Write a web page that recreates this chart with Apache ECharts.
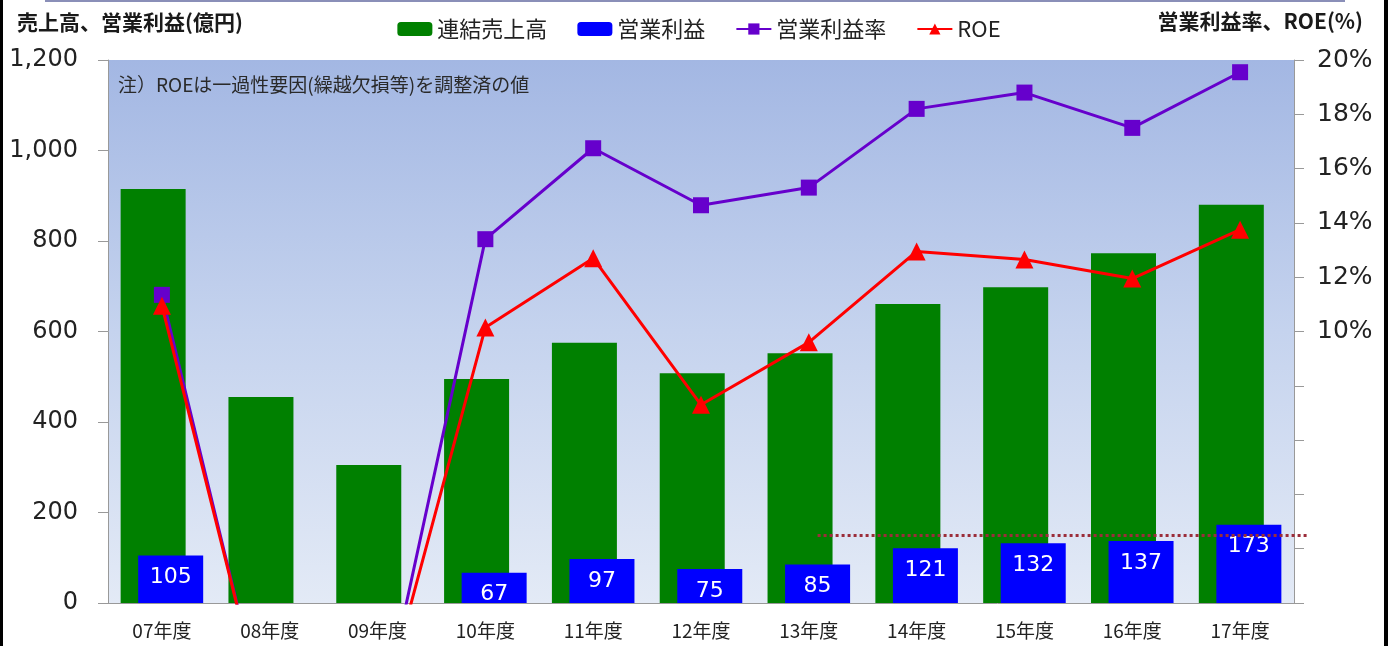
<!DOCTYPE html>
<html>
<head>
<meta charset="utf-8">
<script src="https://cdn.jsdelivr.net/npm/echarts@6/dist/echarts.min.js"></script>
<style>
  html, body { margin: 0; padding: 0; background: #fff; }
  #graph { width: 1398px; height: 646px; }
</style>
</head>
<body>
<div id="graph"></div>
<script>
"use strict"

const years = ["07年度", "08年度", "09年度", "10年度", "11年度", "12年度", "13年度", "14年度", "15年度", "16年度", "17年度"];
// 億円
const sales = [915, 455, 305, 495, 575, 508, 552, 661, 698, 773, 880];
const opProfit = [105, null, null, 67, 97, 75, 85, 121, 132, 137, 173];
// %
const opMargin = [11.35, -5.0, -4.9, 13.4, 16.75, 14.65, 15.3, 18.2, 18.8, 17.5, 19.55];
const roe = [10.95, -4.9, -4.6, 10.15, 12.7, 7.3, 9.6, 12.95, 12.65, 11.95, 13.75];
const targetLine = 150;

const latin = "'DejaVu Sans', 'Noto Sans CJK JP', sans-serif";
const cjk = "'Noto Sans CJK JP', 'DejaVu Sans', sans-serif";

const myChart = echarts.init(document.getElementById("graph"), null, { renderer: "canvas" });

const option = {
    animation: false,
    backgroundColor: "#fff",
    title: [
        {
            text: "売上高、営業利益(億円)", left: 12, top: 7,
            textStyle: { fontFamily: cjk, fontWeight: "bold", fontSize: 21, color: "#1a1a1a" }
        },
        {
            text: "営業利益率、ROE(%)", right: 30, top: 6,
            textStyle: { fontFamily: cjk, fontWeight: "bold", fontSize: 21, color: "#1a1a1a" }
        }
    ],
    legend: {
        top: 13, left: "center",
        itemWidth: 35, itemHeight: 14, itemGap: 30,
        textStyle: { fontFamily: cjk, fontSize: 22, color: "#222" },
        data: ["連結売上高", "営業利益", "営業利益率", "ROE"]
    },
    grid: {
        left: 108, right: 104, top: 60, bottom: 43,
        show: true, borderWidth: 0,
        backgroundColor: new echarts.graphic.LinearGradient(0, 0, 0, 1, [
            { offset: 0, color: "#a3b7e3" },
            { offset: 0.5, color: "#c5d3ee" },
            { offset: 1, color: "#e3eaf6" }
        ])
    },
    graphic: [
        { type: "rect", left: 0, top: 0, shape: { width: 3, height: 646 }, style: { fill: "#000" } },
        { type: "rect", left: 1384, top: 0, shape: { width: 4, height: 646 }, style: { fill: "#000" } },
        { type: "rect", left: 45, top: 0, shape: { width: 1300, height: 2 }, style: { fill: "#8a8fb8" } },
        {
            type: "text", left: 118, top: 75,
            style: { text: "注）ROEは一過性要因(繰越欠損等)を調整済の値", font: "19px " + cjk, fill: "#2a2a2a" }
        }
    ],
    xAxis: {
        type: "category",
        data: years,
        axisLine: { lineStyle: { color: "#999" } },
        axisTick: { length: 6, lineStyle: { color: "#999" } },
        axisLabel: { fontFamily: cjk, fontSize: 19, color: "#222", margin: 18 }
    },
    yAxis: [
        {
            type: "value", min: 0, max: 1200, interval: 200,
            splitLine: { show: false },
            axisLine: { show: true, lineStyle: { color: "#999" } },
            axisTick: { show: true, length: 10, lineStyle: { color: "#999" } },
            axisLabel: {
                fontFamily: latin, fontSize: 24, color: "#222", margin: 30,
                formatter: v => v.toLocaleString("en-US")
            }
        },
        {
            type: "value", min: 0, max: 20, interval: 2,
            splitLine: { show: false },
            axisLine: { show: true, lineStyle: { color: "#999" } },
            axisTick: { show: true, length: 10, lineStyle: { color: "#999" } },
            axisLabel: {
                fontFamily: latin, fontSize: 25, color: "#222", margin: 23,
                formatter: v => v >= 10 ? v + "%" : ""
            }
        }
    ],
    series: [
        {
            name: "連結売上高", type: "bar",
            barWidth: 65, barGap: "-73%",
            itemStyle: { color: "#008000" },
            data: sales
        },
        {
            name: "営業利益", type: "bar",
            barWidth: 65, barGap: "-73%",
            clip: false,
            itemStyle: { color: "#0000ff" },
            label: {
                show: true, position: "insideTop", distance: 11,
                fontFamily: latin, fontSize: 22, color: "#fff"
            },
            data: opProfit,
            markLine: {
                silent: true, symbol: "none",
                label: { show: false },
                lineStyle: { color: "#9b2d3a", width: 3, type: [3, 3] },
                data: [[{ xAxis: "13年度", yAxis: targetLine }, { x: "93.6%", yAxis: targetLine }]]
            }
        },
        {
            name: "営業利益率", type: "line", yAxisIndex: 1,
            symbol: "rect", symbolSize: 16,
            lineStyle: { color: "#6600cc", width: 3 },
            itemStyle: { color: "#6600cc" },
            data: opMargin
        },
        {
            name: "ROE", type: "line", yAxisIndex: 1,
            symbol: "triangle", symbolSize: 18,
            lineStyle: { color: "#ff0000", width: 3 },
            itemStyle: { color: "#ff0000" },
            data: roe
        }
    ]
};

myChart.setOption(option);
</script>
</body>
</html>
